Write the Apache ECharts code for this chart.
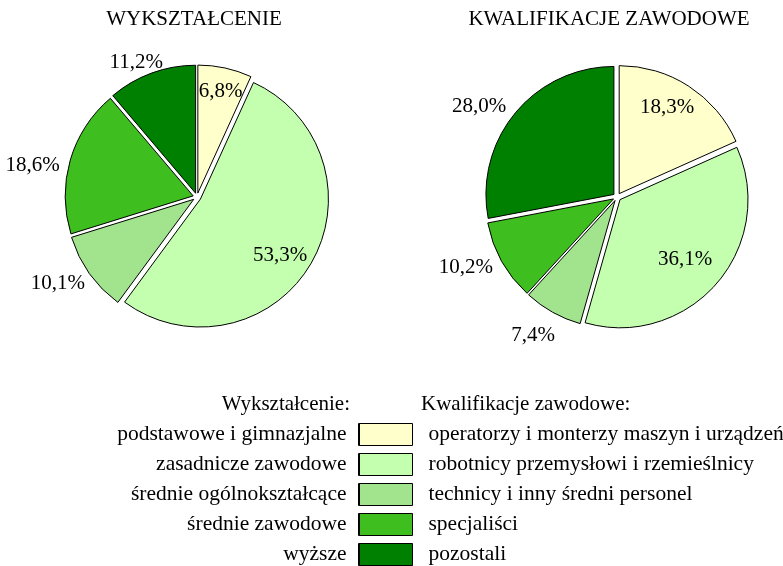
<!DOCTYPE html>
<html lang="pl">
<head>
    <meta charset="UTF-8">
    <title>Wykształcenie i kwalifikacje</title>
    <script src="https://cdn.jsdelivr.net/npm/echarts@6/dist/echarts.min.js"></script>
    <style>
        html, body { margin: 0; padding: 0; background: #fff; }
    </style>
</head>
<body>
<div id="chart" style="width: 783px;height:566px"></div>
<script>
    // dane
    var eduNames = ['podstawowe i gimnazjalne', 'zasadnicze zawodowe', 'średnie ogólnokształcące', 'średnie zawodowe', 'wyższe'];
    var eduValues = [6.8, 53.3, 10.1, 18.6, 11.2];
    var qualNames = ['operatorzy i monterzy maszyn i urządzeń', 'robotnicy przemysłowi i rzemieślnicy', 'technicy i inny średni personel', 'specjaliści', 'pozostali'];
    var qualValues = [18.3, 36.1, 7.4, 10.2, 28.0];
    var colors = ['#FFFFCC', '#C3FFAF', '#A2E38E', '#3FBF1F', '#008000'];

    // przesunięcie etykiet: [length, length2]
    var eduLabelLine = [[-24.5, -21], [-17.4, -42.8], [16.3, -8.9], [-17.3, 27], [11.8, -15.6]];
    var qualLabelLine = [[-25.9, -34.7], [-37.2, -30.7], [26.1, -15], [11.7, -1.5], [9.3, 2]];

    var font = 'Liberation Serif';
    var fontSize = 21;

    function pct(v) {
        return v.toFixed(1).replace('.', ',') + '%';
    }

    function pieData(names, values, lines) {
        return values.map(function (v, i) {
            return {
                name: names[i],
                value: v,
                selected: true,
                itemStyle: {color: colors[i]},
                labelLine: {length: lines[i][0], length2: lines[i][1]}
            };
        });
    }

    function pieSeries(center, names, values, lines) {
        return {
            type: 'pie',
            center: center,
            radius: 128,
            startAngle: 90,
            clockwise: true,
            selectedMode: 'multiple',
            selectedOffset: 4,
            avoidLabelOverlap: false,
            animation: false,
            itemStyle: {borderColor: '#000', borderWidth: 1},
            label: {
                position: 'outside',
                distanceToLabelLine: 0,
                fontFamily: font,
                fontSize: fontSize,
                color: '#000',
                formatter: function (p) { return pct(p.value); }
            },
            labelLine: {show: false},
            emphasis: {disabled: true},
            data: pieData(names, values, lines)
        };
    }

    var chartDom = document.getElementById('chart');
    var myChart = echarts.init(chartDom);

    var titleStyle = {fontFamily: font, fontSize: fontSize, fontWeight: 'normal', color: '#000'};
    var legendText = {fontFamily: font, fontSize: 21.5, color: '#000'};

    var option = {
        backgroundColor: '#fff',
        title: [
            {text: 'WYKSZTAŁCENIE', left: 194, top: 9, textAlign: 'center', textStyle: titleStyle, padding: 0},
            {text: 'KWALIFIKACJE ZAWODOWE', left: 609, top: 9, textAlign: 'center', textStyle: titleStyle, padding: 0},
            {text: 'Wykształcenie:', right: 433, top: 394, textStyle: titleStyle, padding: 0},
            {text: 'Kwalifikacje zawodowe:', left: 421, top: 394, textStyle: titleStyle, padding: 0}
        ],
        legend: [
            {
                data: eduNames,
                orient: 'vertical',
                align: 'right',
                right: 371,
                top: 423,
                padding: 0,
                itemWidth: 53,
                itemHeight: 22,
                itemGap: 7,
                icon: 'rect',
                selectedMode: false,
                itemStyle: {borderColor: '#000', borderWidth: 1},
                textStyle: Object.assign({padding: [0, 7, 0, 0]}, legendText)
            },
            {
                data: qualNames,
                orient: 'vertical',
                align: 'left',
                left: 359,
                top: 423,
                padding: 0,
                itemWidth: 53,
                itemHeight: 22,
                itemGap: 7,
                icon: 'rect',
                selectedMode: false,
                itemStyle: {borderColor: '#000', borderWidth: 1},
                textStyle: Object.assign({padding: [0, 0, 0, 11]}, legendText)
            }
        ],
        series: [
            pieSeries([197, 197], eduNames, eduValues, eduLabelLine),
            pieSeries([617, 197], qualNames, qualValues, qualLabelLine)
        ]
    };

    option && myChart.setOption(option);
</script>
</body>
</html>
